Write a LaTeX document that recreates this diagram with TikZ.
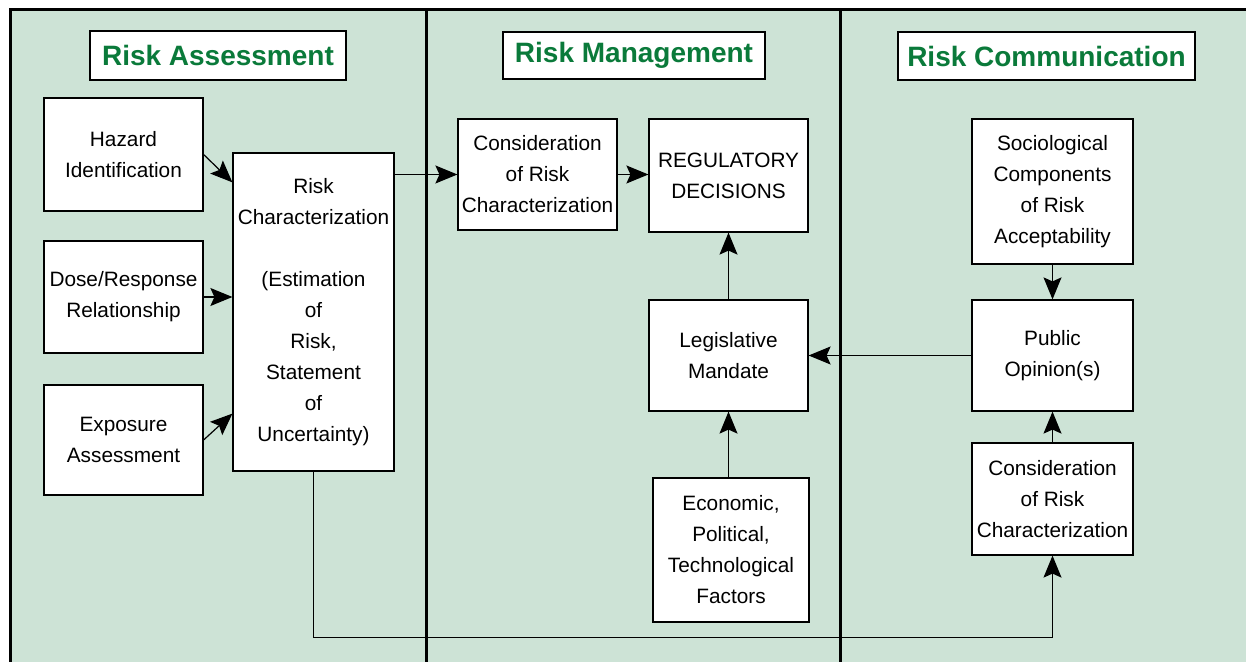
\documentclass[tikz,border=0pt]{standalone}
\usepackage{fontspec}
\setmainfont{Liberation Sans}
\usepackage{tikz}
\usetikzlibrary{arrows.meta,calc}
\pgfdeclarelayer{background layer}
\pgfsetlayers{background layer,main}
\definecolor{panelbkg}{RGB}{205,227,214}
\definecolor{titlegreen}{RGB}{10,122,58}

\begin{document}
\begin{tikzpicture}[x=0.5pt,y=-0.5pt]
\tikzstyle{box}=[draw=black,line width=0.6pt,fill=white,align=center,inner sep=0pt,minimum width=79.5pt,font=\fontsize{10.4}{15.5}\selectfont]
\tikzstyle{title}=[draw=black,line width=0.6pt,fill=white,inner sep=0pt,text=titlegreen,font=\fontsize{14}{16}\selectfont\bfseries]
\tikzstyle{arrow}=[line width=0.6pt,-{Stealth[length=11pt,width=9pt,inset=2pt]}]
\tikzstyle{panel}=[line width=1.5pt]
\useasboundingbox (0,0) rectangle (1246,662);
% headings
\node [title,minimum width=128pt,minimum height=24.5pt] at (218,55.5) (assess) {Risk Assessment};
\node [title,minimum width=131pt,minimum height=23.5pt] at (634,55.5) (manage) {Risk Management};
\node [title,minimum width=148.5pt,minimum height=24pt] at (1046.5,56) (commun) {Risk Communication};
% assessment
\node [box,minimum height=56.5pt] at (123.5,154.5) (hazard) {Hazard\\Identification};
\node [box,minimum height=56pt] at (123.5,297) (dose) {Dose/Response\\Relationship};
\node [box,minimum height=55pt] at (123.5,440) (expo) {Exposure\\Assessment};
\node [box,minimum width=80.5pt,minimum height=159pt] at (313.5,312) (riskchar)
  {Risk\\Characterization\\[15.5pt](Estimation\\of\\Risk,\\Statement\\of\\Uncertainty)};
% management
\node [box,minimum height=55.5pt] at (537.5,174.5) (mcons) {Consideration\\of Risk\\Characterization};
\node [box,minimum height=56.5pt] at (728.5,175.5) (decide) {REGULATORY\\DECISIONS};
\node [box,minimum height=55.5pt] at (728.5,355.5) (mandate) {Legislative\\Mandate};
\node [box,minimum width=78pt,minimum height=72pt] at (731,550) (factors) {Economic,\\Political,\\Technological\\Factors};
% communication
\node [box,minimum width=80.5pt,minimum height=72.5pt] at (1052.5,191.5) (socio) {Sociological\\Components\\of Risk\\Acceptability};
\node [box,minimum width=80.5pt,minimum height=55.5pt] at (1052.5,355.5) (opinion) {Public\\Opinion(s)};
\node [box,minimum width=80.5pt,minimum height=56pt] at (1052.5,499) (ccons) {Consideration\\of Risk\\Characterization};
% arrows
\draw [arrow] (hazard.east) -- ($(riskchar.north west)+(0,30)$);
\draw [arrow] (dose.east) -- (riskchar.west |- dose.east);
\draw [arrow] (expo.east) -- ($(riskchar.south west)+(0,-58)$);
\draw [arrow] (riskchar.east |- mcons.west) -- (mcons.west);
\draw [arrow] (mcons.east) -- (mcons.east -| decide.west);
\draw [arrow] (mandate.north) -- (decide.south);
\draw [arrow] (mandate.south |- factors.north) -- (mandate.south);
\draw [arrow] (opinion.west) -- (mandate.east);
\draw [arrow] (socio.south) -- (opinion.north);
\draw [arrow] (ccons.north) -- (opinion.south);
\draw [arrow] (riskchar.south) -- ++(0,166) -| (ccons.south);
% panels
\begin{pgfonlayer}{background layer}
\fill [panelbkg] (10,10) rectangle (1246,662);
\draw [panel] (10,662) -- (10,10) -- (1246,10);
\draw [panel] (426,10) -- (426,662);
\draw [panel] (840,10) -- (840,662);
\end{pgfonlayer}
\end{tikzpicture}
\end{document}
